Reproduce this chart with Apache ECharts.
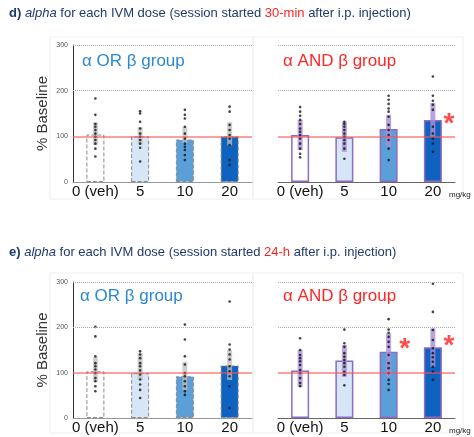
<!DOCTYPE html>
<html>
<head>
<meta charset="utf-8">
<script src="https://cdn.jsdelivr.net/npm/echarts@6/dist/echarts.min.js"></script>
<style>
  html, body { margin: 0; padding: 0; background: #fff; }
  #chart { width: 474px; height: 437px; }
</style>
</head>
<body>
<div id="chart"></div>
<script>
var doses = ['0 (veh)', '5', '10', '20'];
var yTicks = [0, 100, 200, 300];
var gridLevels = [200, 300];
var baseline = 100;

// bar heights (% baseline)
var barD_or  = [104, 100, 93, 100];
var barD_and = [103, 98, 116, 136];
var barE_or  = [103, 99, 92, 116];
var barE_and = [105, 127, 146, 156];

// error bands [low, high]
var errD_or  = [[81, 131], [82, 120], [85, 121], [80, 131]];
var errD_and = [[70, 136], [66, 132], [77, 147], [99, 173]];
var errE_or  = [[80, 135], [84, 143], [62, 124], [84, 150]];
var errE_and = [[69, 150], [91, 161], [91, 187], [113, 198]];

// individual animals, one list per dose
var dotsD_or = [
  [183, 147, 127, 121, 114, 106, 99, 92, 84, 73, 56],
  [155, 150, 132, 117, 106, 99, 92, 84, 75, 45],
  [158, 147, 139, 121, 106, 95, 84, 77, 70, 59, 48],
  [165, 154, 125, 114, 103, 95, 81, 48, 37]
];
var dotsD_and = [
  [164, 154, 145, 136, 127, 117, 110, 103, 95, 84, 73, 62, 54],
  [132, 127, 121, 114, 106, 99, 92, 84, 73, 51],
  [189, 180, 171, 161, 154, 143, 125, 114, 103, 92, 73, 48],
  [231, 189, 178, 169, 158, 121, 106, 95, 84, 66]
];
var dotsE_or = [
  [201, 180, 136, 121, 114, 107, 99, 88, 81, 70, 59],
  [147, 140, 132, 121, 114, 105, 96, 85, 74, 62, 44],
  [206, 173, 136, 118, 99, 92, 81, 70, 59, 51],
  [257, 162, 151, 140, 129, 114, 103, 92, 70, 22]
];
var dotsE_and = [
  [176, 150, 139, 132, 125, 117, 106, 99, 88, 77, 70],
  [195, 165, 157, 143, 135, 128, 121, 113, 102, 95, 72],
  [218, 195, 188, 179, 168, 157, 139, 121, 110, 99, 84, 75, 62],
  [296, 234, 194, 172, 154, 143, 134, 124, 113, 102, 84]
];

// significance stars [dose index, value]
var starsD = [[3, 140]];
var starsE = [[2, 165], [3, 172]];

var barColors = ['#ffffff', '#d6e6f6', '#5b9fd8', '#0f63c0'];

function toPoints(lists) {
  var out = [];
  lists.forEach(function (vals, i) {
    vals.forEach(function (v) { out.push([i, v]); });
  });
  return out;
}

function grids(idx, isAnd, bars, errs, dots, stars) {
  var s = [];
  s.push({
    type: 'bar', xAxisIndex: idx, yAxisIndex: idx, barWidth: 18, z: 2,
    silent: true,
    data: bars.map(function (v, i) {
      return {
        value: v,
        itemStyle: isAnd
          ? { color: barColors[i], borderColor: '#8d6cc4', borderWidth: 1.5 }
          : { color: barColors[i], borderColor: '#8a8a8a', borderWidth: 1, borderType: 'dashed' }
      };
    }),
    // dotted reference grid (100 is left to the red baseline)
    markLine: {
      silent: true, symbol: 'none', label: { show: false },
      lineStyle: { color: '#aaa', width: 1, type: 'dotted' },
      data: gridLevels.map(function (v) { return { yAxis: v }; })
    }
  });
  s.push({
    type: 'custom', xAxisIndex: idx, yAxisIndex: idx, z: 3, silent: true,
    data: errs.map(function (e, i) { return [i, e[0], e[1]]; }),
    encode: { x: 0, y: [1, 2] },
    renderItem: function (params, api) {
      var lo = api.coord([api.value(0), api.value(1)]);
      var hi = api.coord([api.value(0), api.value(2)]);
      return {
        type: 'rect',
        shape: { x: lo[0] - 2.5, y: hi[1], width: 5, height: lo[1] - hi[1] },
        style: { fill: isAnd ? 'rgba(170,140,215,0.8)' : 'rgba(190,190,190,0.75)' }
      };
    },
    markLine: {
      silent: true, symbol: 'none', label: { show: false },
      lineStyle: { color: 'rgba(250,80,80,0.55)', width: 2, type: 'solid', opacity: 1 },
      data: [{ yAxis: baseline }]
    }
  });
  s.push({
    type: 'scatter', xAxisIndex: idx, yAxisIndex: idx, z: 4, silent: true,
    symbolSize: 2.6, itemStyle: { color: '#111' },
    data: toPoints(dots)
  });
  if (stars) {
    s.push({
      type: 'scatter', xAxisIndex: idx, yAxisIndex: idx, z: 5, silent: true,
      symbolSize: 1, itemStyle: { color: 'rgba(0,0,0,0)' },
      label: { show: true, formatter: '*', color: '#ff2020', fontSize: 28, fontWeight: 'bold',
               fontFamily: 'Liberation Sans', offset: [16, 6] },
      data: stars
    });
  }
  return s;
}

var gridPos = [
  { left: 73, top: 45, width: 179, height: 137 },
  { left: 278, top: 45, width: 177, height: 137 },
  { left: 73, top: 282, width: 179, height: 136 },
  { left: 278, top: 282, width: 177, height: 136 }
];

var xAxes = gridPos.map(function (g, i) {
  var isAnd = i % 2 === 1;
  return {
    type: 'category', gridIndex: i, data: doses,
    axisLine: { lineStyle: { color: isAnd ? '#666' : '#999', width: 1 } },
    axisTick: { show: false },
    axisLabel: { color: '#111', fontSize: 15, margin: 2, interval: 0, fontFamily: 'Liberation Sans' },
    name: isAnd ? 'mg/kg' : '',
    nameLocation: 'end', nameGap: -6,
    nameTextStyle: { fontSize: 8, color: '#222', verticalAlign: 'top', padding: [9, 0, 0, 0] }
  };
});

var yAxes = gridPos.map(function (g, i) {
  var isAnd = i % 2 === 1;
  return {
    type: 'value', gridIndex: i, min: 0, max: 300, interval: 100,
    axisLine: { show: !isAnd, lineStyle: { color: '#333', width: 1 } },
    axisTick: { show: false },
    axisLabel: { show: !isAnd, fontSize: 7, color: '#555', margin: 5,
                 formatter: function (v) { return yTicks.indexOf(v) >= 0 ? v : ''; } },
    splitLine: { show: false },
    name: isAnd ? '' : '% Baseline',
    nameLocation: 'middle', nameGap: 23,
    nameTextStyle: { fontSize: 15, color: '#333', fontFamily: 'Liberation Sans' }
  };
});

var rich = {
  b: { fontWeight: 'bold', fontSize: 13, color: '#1f3a6e', fontFamily: 'Liberation Sans' },
  i: { fontStyle: 'italic', fontSize: 13, color: '#1f3a6e', fontFamily: 'Liberation Sans' },
  r: { fontSize: 13, color: '#ff2020', fontFamily: 'Liberation Sans' }
};
var titleStyle = { fontSize: 13, fontWeight: 'normal', color: '#1f3a6e', fontFamily: 'Liberation Sans', rich: rich };
var orStyle = { fontSize: 17, fontWeight: 'normal', color: '#2b88d0', fontFamily: 'Liberation Sans' };
var andStyle = { fontSize: 17, fontWeight: 'normal', color: '#ff2626', fontFamily: 'Liberation Sans' };

var option = {
  animation: false,
  backgroundColor: '#fff',
  title: [
    { left: 9, top: 7, padding: 0, text: '{b|d)} {i|alpha} for each IVM dose (session started {r|30-min} after i.p. injection)', textStyle: titleStyle },
    { left: 9, top: 246, padding: 0, text: '{b|e)} {i|alpha} for each IVM dose (session started {r|24-h} after i.p. injection)', textStyle: titleStyle },
    { left: 82, top: 53, padding: 0, text: 'α OR β group', textStyle: orStyle },
    { left: 283, top: 53, padding: 0, text: 'α AND β group', textStyle: andStyle },
    { left: 80, top: 288, padding: 0, text: 'α OR β group', textStyle: orStyle },
    { left: 283, top: 288, padding: 0, text: 'α AND β group', textStyle: andStyle }
  ],
  graphic: [
    { type: 'rect', shape: { x: 50, y: 37, width: 203, height: 162 }, style: { fill: 'none', stroke: '#efefef', lineWidth: 1 }, silent: true, z: -1 },
    { type: 'rect', shape: { x: 253, y: 37, width: 210, height: 162 }, style: { fill: 'none', stroke: '#efefef', lineWidth: 1 }, silent: true, z: -1 },
    { type: 'rect', shape: { x: 50, y: 273, width: 203, height: 160 }, style: { fill: 'none', stroke: '#efefef', lineWidth: 1 }, silent: true, z: -1 },
    { type: 'rect', shape: { x: 253, y: 273, width: 210, height: 160 }, style: { fill: 'none', stroke: '#efefef', lineWidth: 1 }, silent: true, z: -1 }
  ],
  grid: gridPos,
  xAxis: xAxes,
  yAxis: yAxes,
  series: [].concat(
    grids(0, false, barD_or, errD_or, dotsD_or, null),
    grids(1, true, barD_and, errD_and, dotsD_and, starsD),
    grids(2, false, barE_or, errE_or, dotsE_or, null),
    grids(3, true, barE_and, errE_and, dotsE_and, starsE)
  )
};

var chart = echarts.init(document.getElementById('chart'));
chart.setOption(option);
</script>
</body>
</html>
